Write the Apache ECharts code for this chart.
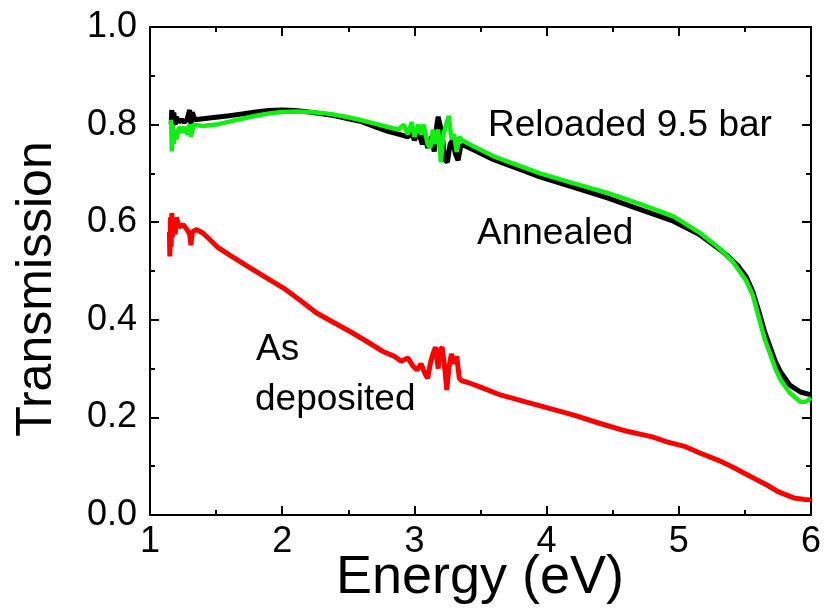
<!DOCTYPE html>
<html>
<head>
<meta charset="utf-8">
<script src="https://cdn.jsdelivr.net/npm/echarts@6/dist/echarts.min.js"></script>
<style>
  html, body { margin: 0; padding: 0; background: #fff; }
  #chart { width: 825px; height: 616px; }
</style>
</head>
<body>
<div id="chart"></div>
<script>
// Optical transmission spectra, [energy (eV), transmission]
const annealed = [
  [1.16,0.80],[1.165,0.83],[1.17,0.79],[1.18,0.825],[1.19,0.80],[1.20,0.815],[1.22,0.805],
  [1.24,0.81],[1.26,0.805],[1.28,0.81],[1.30,0.83],[1.31,0.80],[1.32,0.825],[1.34,0.81],
  [1.40,0.812],[1.50,0.815],[1.60,0.818],[1.70,0.822],[1.80,0.826],[1.90,0.829],[2.00,0.830],
  [2.10,0.829],[2.20,0.826],[2.30,0.822],[2.40,0.818],[2.50,0.812],[2.60,0.806],[2.70,0.796],
  [2.80,0.786],[2.90,0.779],[2.95,0.775],[2.98,0.782],[3.00,0.768],[3.03,0.785],[3.06,0.76],
  [3.08,0.78],[3.10,0.752],[3.13,0.775],[3.15,0.745],[3.17,0.80],[3.18,0.816],[3.21,0.78],
  [3.23,0.728],[3.25,0.723],[3.27,0.76],[3.29,0.768],[3.31,0.74],[3.33,0.727],[3.35,0.755],
  [3.37,0.758],[3.45,0.748],[3.60,0.728],[3.80,0.708],[3.95,0.693],[4.20,0.672],[4.46,0.650],
  [4.70,0.627],[4.96,0.602],[5.16,0.574],[5.30,0.546],[5.36,0.533],[5.45,0.510],[5.51,0.488],
  [5.56,0.458],[5.61,0.413],[5.65,0.375],[5.69,0.345],[5.73,0.315],[5.77,0.293],[5.84,0.266],
  [5.92,0.252],[6.00,0.246]
];
const reloaded = [
  [1.16,0.81],[1.165,0.745],[1.17,0.80],[1.18,0.76],[1.19,0.79],[1.20,0.77],[1.22,0.795],
  [1.24,0.785],[1.26,0.795],[1.28,0.78],[1.30,0.80],[1.31,0.775],[1.33,0.80],[1.40,0.797],
  [1.50,0.800],[1.60,0.806],[1.70,0.812],[1.80,0.818],[1.90,0.823],[2.00,0.826],[2.10,0.827],
  [2.20,0.826],[2.30,0.824],[2.40,0.820],[2.50,0.815],[2.60,0.809],[2.70,0.802],[2.80,0.795],
  [2.88,0.790],[2.92,0.800],[2.95,0.780],[2.98,0.805],[3.00,0.775],[3.03,0.800],[3.05,0.780],
  [3.07,0.800],[3.10,0.760],[3.12,0.752],[3.14,0.790],[3.16,0.760],[3.18,0.790],[3.20,0.723],
  [3.22,0.780],[3.24,0.800],[3.26,0.818],[3.28,0.770],[3.30,0.780],[3.32,0.744],[3.34,0.775],
  [3.36,0.768],[3.45,0.755],[3.60,0.735],[3.80,0.715],[3.95,0.700],[4.20,0.680],[4.46,0.660],
  [4.70,0.638],[4.96,0.612],[5.16,0.578],[5.30,0.548],[5.40,0.522],[5.51,0.480],[5.56,0.450],
  [5.61,0.400],[5.65,0.360],[5.69,0.331],[5.73,0.300],[5.77,0.277],[5.84,0.250],[5.92,0.232],
  [5.96,0.232],[6.00,0.240]
];
const asDeposited = [
  [1.147,0.58],[1.15,0.53],[1.155,0.61],[1.16,0.55],[1.165,0.619],[1.17,0.57],[1.18,0.60],
  [1.19,0.575],[1.20,0.61],[1.22,0.59],[1.25,0.595],[1.28,0.585],[1.30,0.575],[1.31,0.553],
  [1.32,0.58],[1.35,0.585],[1.40,0.578],[1.45,0.565],[1.51,0.549],[1.60,0.533],[1.76,0.506],
  [1.90,0.483],[2.01,0.465],[2.15,0.437],[2.26,0.414],[2.40,0.393],[2.52,0.375],[2.65,0.354],
  [2.77,0.334],[2.85,0.325],[2.90,0.315],[2.95,0.322],[2.99,0.305],[3.02,0.297],[3.05,0.310],
  [3.08,0.290],[3.10,0.280],[3.12,0.310],[3.14,0.330],[3.16,0.344],[3.18,0.300],[3.19,0.335],
  [3.21,0.344],[3.23,0.300],[3.245,0.256],[3.26,0.300],[3.28,0.330],[3.30,0.310],[3.32,0.325],
  [3.34,0.280],[3.36,0.275],[3.40,0.272],[3.50,0.262],[3.65,0.246],[3.80,0.235],[4.00,0.220],
  [4.20,0.205],[4.40,0.188],[4.60,0.172],[4.80,0.160],[4.91,0.150],[5.05,0.140],[5.16,0.127],
  [5.30,0.112],[5.41,0.098],[5.55,0.078],[5.67,0.061],[5.75,0.048],[5.87,0.035],[5.95,0.032],
  [6.00,0.031]
];

const xTicks = [1, 2, 3, 4, 5, 6];
const yTicks = [0.0, 0.2, 0.4, 0.6, 0.8, 1.0];
const seriesNames = ['Annealed', 'Reloaded 9.5 bar', 'As deposited'];

const FONT = "'Liberation Sans', Arial, Helvetica, sans-serif";
const axisLine = { show: true, onZero: false, lineStyle: { color: '#000', width: 2 } };
const tick = { show: true, inside: true, length: 9, lineStyle: { color: '#000', width: 2 } };
const minor = { show: true, splitNumber: 2, length: 5, lineStyle: { color: '#000', width: 2 } };

const chart = echarts.init(document.getElementById('chart'), null, { renderer: 'canvas' });
chart.setOption({
  animation: false,
  backgroundColor: '#fff',
  grid: { left: 150, right: 14, top: 27, bottom: 101, containLabel: false, outerBoundsMode: 'none' },
  xAxis: [
    {
      type: 'value', min: xTicks[0], max: xTicks[xTicks.length - 1], interval: 1,
      position: 'bottom',
      axisLine, axisTick: tick, minorTick: minor, splitLine: { show: false },
      axisLabel: { margin: 9, fontFamily: FONT, fontSize: 36, color: '#000' }
    },
    {
      type: 'value', min: xTicks[0], max: xTicks[xTicks.length - 1], interval: 1,
      position: 'top', axisLine, axisTick: tick, minorTick: minor,
      splitLine: { show: false }, axisLabel: { show: false }
    }
  ],
  yAxis: [
    {
      type: 'value', min: yTicks[0], max: yTicks[yTicks.length - 1], interval: 0.2,
      position: 'left',
      axisLine, axisTick: tick, minorTick: minor, splitLine: { show: false },
      axisLabel: {
        margin: 13, fontFamily: FONT, fontSize: 36, color: '#000',
        formatter: v => v.toFixed(1)
      }
    },
    {
      type: 'value', min: yTicks[0], max: yTicks[yTicks.length - 1], interval: 0.2,
      position: 'right', axisLine, axisTick: tick, minorTick: minor,
      splitLine: { show: false }, axisLabel: { show: false }
    }
  ],
  series: [
    {
      name: seriesNames[0], type: 'line', data: annealed, showSymbol: false,
      lineStyle: { color: '#000', width: 5 }, z: 2
    },
    {
      name: seriesNames[1], type: 'line', data: reloaded, showSymbol: false,
      lineStyle: { color: '#11ee11', width: 4.5 }, z: 3
    },
    {
      name: seriesNames[2], type: 'line', data: asDeposited, showSymbol: false,
      lineStyle: { color: '#ff0000', width: 5 }, z: 2
    }
  ],
  graphic: [
    // axis titles
    { type: 'text', x: 480, y: 578,
      style: { text: 'Energy (eV)', font: '54px ' + FONT, fill: '#000',
               align: 'center', verticalAlign: 'middle' } },
    { type: 'text', x: 37, y: 289, rotation: Math.PI / 2,
      style: { text: 'Transmission', font: '50px ' + FONT, fill: '#000',
               align: 'center', verticalAlign: 'middle' } },
    // curve annotations
    { type: 'text', left: 488, top: 107,
      style: { text: 'Reloaded 9.5 bar', font: '37px ' + FONT, fill: '#000' } },
    { type: 'text', left: 477, top: 215,
      style: { text: 'Annealed', font: '37px ' + FONT, fill: '#000' } },
    { type: 'text', left: 256, top: 331,
      style: { text: 'As', font: '37px ' + FONT, fill: '#000' } },
    { type: 'text', left: 255, top: 381,
      style: { text: 'deposited', font: '37px ' + FONT, fill: '#000' } }
  ]
});
</script>
</body>
</html>
